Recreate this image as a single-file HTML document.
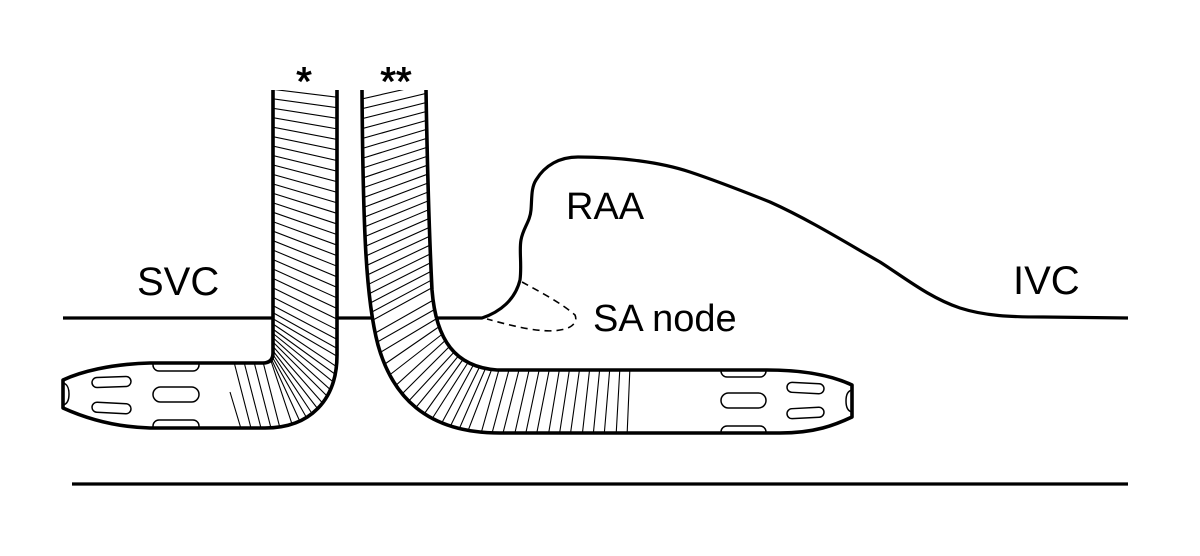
<!DOCTYPE html>
<html>
<head>
<meta charset="utf-8">
<style>
  html,body{margin:0;padding:0;background:#fff;}
  svg{display:block;}
  text{font-family:"Liberation Sans", Arial, sans-serif; fill:#000;}
</style>
</head>
<body>
<svg width="1200" height="556" viewBox="0 0 1200 556" xmlns="http://www.w3.org/2000/svg">
  <defs>
    <clipPath id="clipL">
      <path d="M273,90 L273,353 Q273,363 263,363 L150,363 C110,364 80,372 63,380 L63,408 C85,418 115,427 150,428 L265,428 C310,428 337,400 337,355 L337,90 Z"/>
    </clipPath>
    <clipPath id="clipR">
      <path d="M362,90 C363,230 366,300 378,345 C392,395 425,433 500,433 L780,433 C815,433 835,425 852,417 L852,385 C835,377 810,370 767,370 L497,370 C455,367 436,340 432,290 C429,230 427,150 426,90 Z"/>
    </clipPath>
  </defs>
  <rect width="1200" height="556" fill="#fff"/>

  <!-- baseline + RAA contour -->
  <path d="M63,318 L482,318 C500,312 515,300 520,280 C522,265 519,250 521,240 C523,228 530,222 531,210 C532,198 531,188 536,180 C545,165 560,157 578,157 C620,157 660,162 690,172 C720,182 745,192 770,202 C810,220 850,245 880,262 C905,278 930,298 960,308 C985,316 1010,317 1043,317 L1128,318"
        fill="none" stroke="#000" stroke-width="3.2" stroke-linejoin="round"/>

  <!-- SA node dashed -->
  <path d="M522,282 C540,292 560,302 575,315 C578,322 572,327 565,329 C550,333 530,331 487,319"
        fill="none" stroke="#000" stroke-width="1.6" stroke-dasharray="7,5"/>

  <!-- Left catheter (*) -->
  <path d="M273,90 L273,353 Q273,363 263,363 L150,363 C110,364 80,372 63,380 L63,408 C85,418 115,427 150,428 L265,428 C310,428 337,400 337,355 L337,90 Z" fill="#fff"/>
  <g clip-path="url(#clipL)">
    <path fill="none" stroke="#000" stroke-width="1.1" d="
M270,89L340,97.5 M270,98.4L340,108.1 M270,107.8L340,118.8 M270,117.2L340,129.4
M270,126.6L340,140 M270,136L340,150.6 M270,145.4L340,161.2 M270,154.8L340,171.9
M270,164.2L340,182.5 M270,173.6L340,193.1 M270,183L340,203.7 M270,192.4L340,214.3
M270,201.8L340,225 M270,211.2L340,235.6 M270,220.6L340,246.2 M270,230L340,256.8
M270,239.4L340,267.4 M270,248.8L340,278.1 M270,258.2L340,288.7 M270,267.6L340,299.3
M270,277L340,309.9 M270,286.4L340,320.6 M270,295.8L340,331.2 M270,304L340,341
M270,311L340,350 M270,317L340,358 M270,322L340,369 M270,327L339,377
M270,331L337,385 M270,335L334,393 M270,339L331,400 M270,343L326,407
M270,347L321,413 M270,350L315,418 M270,353L309,422 M270,356L302,426
M270,358L294,430 M262,358L281,432 M253,358L272,432 M243,358L262,432
M233,358L252,432 M230,392L242,432"/>
    <g fill="none" stroke="#000" stroke-width="1.5">
      <rect x="92" y="377" width="39" height="10" rx="5" transform="rotate(-2 111 382)"/>
      <rect x="92" y="403" width="39" height="10" rx="5" transform="rotate(3 111 408)"/>
      <rect x="153" y="387" width="46" height="15" rx="7.5"/>
      <rect x="153" y="355" width="46" height="16" rx="6"/>
      <rect x="153" y="420" width="46" height="16" rx="6"/>
      <path d="M63,383 C68,384 69,390 69,394 C69,399 68,404 63,405"/>
    </g>
  </g>
  <path d="M273,90 L273,353 Q273,363 263,363 L150,363 C110,364 80,372 63,380 L63,408 C85,418 115,427 150,428 L265,428 C310,428 337,400 337,355 L337,90"
        fill="none" stroke="#000" stroke-width="3.6" stroke-linejoin="round"/>

  <!-- Right catheter (**) -->
  <path d="M362,90 C363,230 366,300 378,345 C392,395 425,433 500,433 L780,433 C815,433 835,425 852,417 L852,385 C835,377 810,370 767,370 L497,370 C455,367 436,340 432,290 C429,230 427,150 426,90 Z" fill="#fff"/>
  <g clip-path="url(#clipR)">
    <path fill="none" stroke="#000" stroke-width="1.1" d="
M436,82.2L358,99.8 M436,91.1L358,109.7 M436,100L358,119.7 M436,108.9L358,129.7
M436,117.8L358,139.7 M436,126.6L358,149.7 M436,135.5L358,159.7 M436,144.4L358,169.6
M436,153.3L358,179.6 M436,162.2L358,189.6 M436,171.1L358,199.6 M436,180L358,209.6
M436,188.9L358,219.6 M436,197.7L358,229.5 M436,206.6L358,239.5 M436,215.5L358,249.5
M436,224.4L358,259.5 M436,233.3L358,269.5 M436,242.2L358,279.5 M436,251.1L358,289.5
M436,260L358,299.4 M436,268.8L358,309.4 M436,277.7L358,319.4
M437,285L364,325 M437,298L370,336 M439,307L372,345 M441,316L376,355
M443,324L382,366 M445,332L387,377 M448,338L393,388 M452,344L399,397
M456,350L406,404 M460,354L413,411 M464,358L422,417 M469,361L430,422
M475,362L439,428 M481,364L448,431 M487,365L457,434 M493,366L466,436
M500,366L480,437 M510,366L491,437 M520,366L502,437 M530,366L514,437
M540,366L525,437 M550,366L536,437 M560,366L548,437 M570,366L559,437
M580,366L570,437 M590,366L582,437 M600,366L593,437 M610,366L604,437
M620,366L616,437 M630,366L627,437"/>
    <g fill="none" stroke="#000" stroke-width="1.5">
      <rect x="721" y="362" width="45" height="15" rx="6"/>
      <rect x="721" y="393" width="45" height="15" rx="7.5"/>
      <rect x="721" y="426" width="45" height="15" rx="6"/>
      <rect x="787" y="383" width="37" height="10" rx="5" transform="rotate(3 805 388)"/>
      <rect x="787" y="408" width="37" height="10" rx="5" transform="rotate(-3 805 413)"/>
      <path d="M852,390 C847,391 846,396 846,401 C846,406 847,411 852,412"/>
    </g>
  </g>
  <path d="M362,90 C363,230 366,300 378,345 C392,395 425,433 500,433 L780,433 C815,433 835,425 852,417 L852,385 C835,377 810,370 767,370 L497,370 C455,367 436,340 432,290 C429,230 427,150 426,90"
        fill="none" stroke="#000" stroke-width="3.6" stroke-linejoin="round"/>

  <!-- bottom line -->
  <line x1="72" y1="484" x2="1128" y2="484" stroke="#000" stroke-width="3.2"/>

  <!-- labels -->
  <text x="304" y="95" font-size="40" text-anchor="middle" stroke="#000" stroke-width="0.9">*</text>
  <text x="396" y="95" font-size="40" text-anchor="middle" stroke="#000" stroke-width="0.9">**</text>
  <text x="137" y="295" font-size="40">SVC</text>
  <text x="1013" y="294" font-size="40">IVC</text>
  <text x="566" y="219" font-size="38">RAA</text>
  <text x="593" y="331" font-size="38">SA node</text>
</svg>
</body>
</html>
